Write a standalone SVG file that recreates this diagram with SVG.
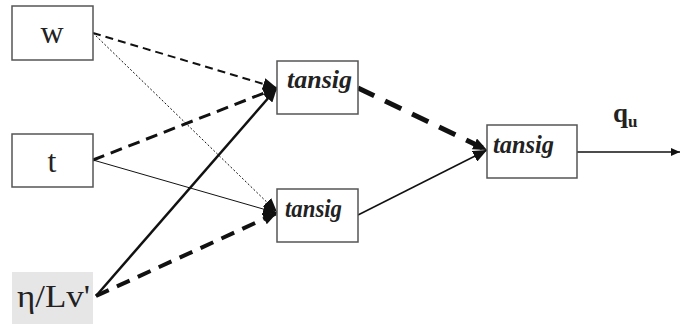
<svg xmlns="http://www.w3.org/2000/svg" width="680" height="324" viewBox="0 0 680 324">
<style>
.box{fill:#fff;stroke:#555;stroke-width:1.5}
.lbl{font-family:"Liberation Serif","Times New Roman",serif;fill:#222}
.ts{font-family:"Liberation Serif","Times New Roman",serif;font-style:italic;font-weight:bold;font-size:26px;fill:#222}
.c{fill:none;stroke:#111}
</style>
<defs>
<marker id="ah" markerUnits="userSpaceOnUse" markerWidth="16" markerHeight="12" refX="14" refY="6" orient="auto">
<path d="M0,0 L14,6 L0,12 z" fill="#111"/>
</marker>
<marker id="as" markerUnits="userSpaceOnUse" markerWidth="10" markerHeight="8" refX="9" refY="4" orient="auto">
<path d="M0,0 L9,4 L0,8 z" fill="#111"/>
</marker>
</defs>
<rect width="680" height="324" fill="#fff"/>
<g id="connectors">
<line class="c" x1="93" y1="33" x2="277" y2="212" stroke-width="1" stroke-dasharray="2,2" stroke="#555" marker-end="url(#ah)"/>
<line class="c" x1="93" y1="160" x2="277" y2="213" stroke-width="1" stroke="#333" marker-end="url(#ah)"/>
<line class="c" x1="93" y1="33" x2="277" y2="88" stroke-width="2" stroke-dasharray="8,5" marker-end="url(#ah)"/>
<line class="c" x1="93" y1="160" x2="277" y2="88" stroke-width="3" stroke-dasharray="12,7" marker-end="url(#ah)"/>
<line class="c" x1="96" y1="296" x2="277" y2="88" stroke-width="2.5" marker-end="url(#ah)"/>
<line class="c" x1="96" y1="296" x2="277" y2="213" stroke-width="4" stroke-dasharray="14,9" marker-end="url(#ah)"/>
<line class="c" x1="358" y1="88" x2="487" y2="150" stroke-width="5" stroke-dasharray="18,12" marker-end="url(#ah)"/>
<line class="c" x1="358" y1="215" x2="487" y2="150" stroke-width="1.5" marker-end="url(#ah)"/>
<line class="c" x1="577" y1="152" x2="680" y2="152" stroke-width="1.5" stroke="#333" marker-end="url(#as)"/>
</g>
<g id="w">
<rect class="box" x="12" y="6" width="81" height="54"/>
<text class="lbl" x="52" y="43" font-size="32" text-anchor="middle">w</text>
</g>
<g id="t">
<rect class="box" x="12" y="134" width="81" height="53"/>
<text class="lbl" x="52" y="172" font-size="32" text-anchor="middle">t</text>
</g>
<g id="eta">
<rect x="12" y="272" width="81" height="52" fill="#e6e6e6"/>
<text class="lbl" x="17" y="307" font-size="31" textLength="73" lengthAdjust="spacingAndGlyphs">η/Lv'</text>
</g>
<g id="h1">
<rect class="box" x="277" y="61" width="81" height="53"/>
<text class="ts" x="287" y="88" textLength="65" lengthAdjust="spacingAndGlyphs">tansig</text>
</g>
<g id="h2">
<rect class="box" x="277" y="189" width="81" height="53"/>
<text class="ts" x="285" y="217" textLength="57" lengthAdjust="spacingAndGlyphs">tansig</text>
</g>
<g id="out">
<rect class="box" x="487" y="125" width="90" height="53"/>
<text class="ts" x="493" y="153" textLength="61" lengthAdjust="spacingAndGlyphs">tansig</text>
</g>
<g id="qu">
<text class="lbl" x="613" y="122" font-size="27" font-weight="bold">q<tspan font-size="17" dy="5">u</tspan></text>
</g>
</svg>
